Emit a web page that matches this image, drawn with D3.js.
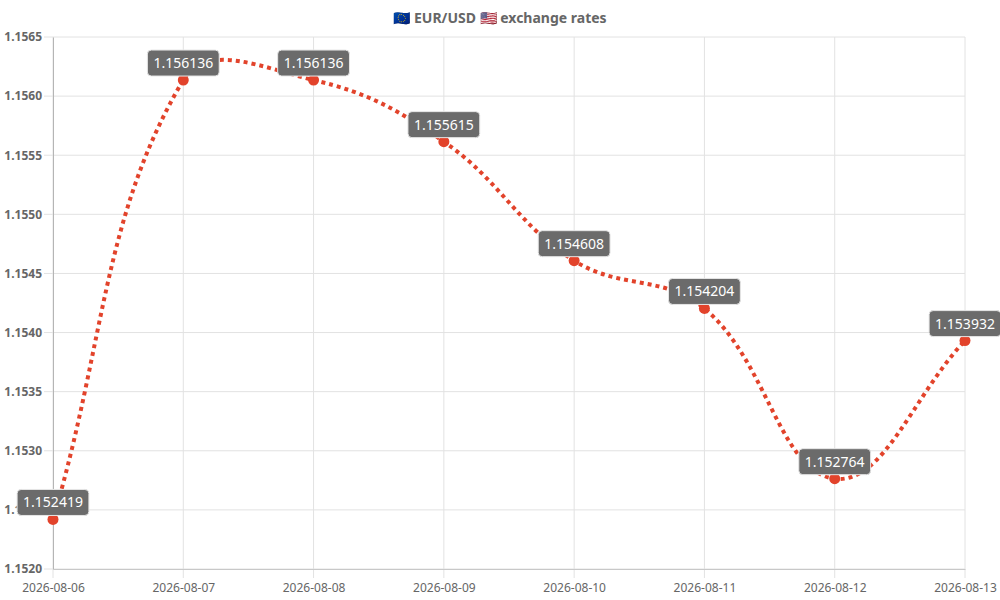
<!DOCTYPE html>
<html>
<head>
<meta charset="utf-8">
<script src="https://cdn.jsdelivr.net/npm/d3@7"></script>
<style>
  body { margin: 0; background: #fff; }
  text { font-family: "Noto Sans", sans-serif; }
</style>
</head>
<body>
<div id="chart"></div>
<script>
// data
var dates = ['2026-08-06', '2026-08-07', '2026-08-08', '2026-08-09', '2026-08-10', '2026-08-11', '2026-08-12', '2026-08-13'];
var rates = [1.152419, 1.156136, 1.156136, 1.155615, 1.154608, 1.154204, 1.152764, 1.153932];
var yTicks = [1.1520, 1.1525, 1.1530, 1.1535, 1.1540, 1.1545, 1.1550, 1.1555, 1.1560, 1.1565];
var title = '\u{1F1EA}\u{1F1FA} EUR/USD \u{1F1FA}\u{1F1F8} exchange rates';

var W = 1000, H = 600;
var margin = { top: 37, right: 35, bottom: 31, left: 53 },
  width = W - margin.left - margin.right,
  height = H - margin.top - margin.bottom;

var lineColor = '#e2432b';

var svg = d3.select('#chart')
  .append('svg')
  .attr('width', W)
  .attr('height', H);

svg.append('text')
  .attr('x', W / 2)
  .attr('y', 23)
  .attr('text-anchor', 'middle')
  .attr('font-size', 14)
  .attr('font-weight', 'bold')
  .attr('fill', '#666')
  .text(title);

var g = svg.append('g')
  .attr('transform', 'translate(' + margin.left + ',' + margin.top + ')');

var x = d3.scalePoint()
  .domain(dates)
  .range([0, width]);

var y = d3.scaleLinear()
  .domain([yTicks[0], yTicks[yTicks.length - 1]])
  .range([height, 0]);

// grid lines
g.append('g')
  .selectAll('line')
  .data(yTicks)
  .join('line')
  .attr('x1', -9).attr('x2', width)
  .attr('y1', function (d) { return y(d); })
  .attr('y2', function (d) { return y(d); })
  .attr('stroke', '#e2e2e2');

g.append('g')
  .selectAll('line')
  .data(dates)
  .join('line')
  .attr('x1', function (d) { return x(d); })
  .attr('x2', function (d) { return x(d); })
  .attr('y1', 0).attr('y2', height + 9)
  .attr('stroke', '#e2e2e2');

// axes
var yAxis = g.append('g')
  .call(d3.axisLeft(y).tickValues(yTicks).tickFormat(d3.format('.4f')).tickSize(0).tickPadding(11));
yAxis.select('.domain').attr('stroke', '#b5b5b5');
yAxis.selectAll('text')
  .attr('font-size', 12)
  .attr('font-weight', 'bold')
  .attr('fill', '#666')
  .attr('font-family', '"Noto Sans", sans-serif');

var xAxis = g.append('g')
  .attr('transform', 'translate(0,' + height + ')')
  .call(d3.axisBottom(x).tickSize(0).tickPadding(14));
xAxis.select('.domain').attr('stroke', '#c8c8c8');
xAxis.selectAll('text')
  .attr('font-size', 12)
  .attr('fill', '#666')
  .attr('font-family', '"Noto Sans", sans-serif');

// points in pixel space
var pts = dates.map(function (d, i) { return { x: x(d), y: y(rates[i]) }; });

// bezier control points like a spline with tension 0.4
function splineCurve(p0, p1, p2, t) {
  var d01 = Math.hypot(p1.x - p0.x, p1.y - p0.y);
  var d12 = Math.hypot(p2.x - p1.x, p2.y - p1.y);
  var s01 = d01 / (d01 + d12), s12 = d12 / (d01 + d12);
  if (isNaN(s01)) s01 = 0;
  if (isNaN(s12)) s12 = 0;
  var fa = t * s01, fb = t * s12;
  return {
    prev: { x: p1.x - fa * (p2.x - p0.x), y: p1.y - fa * (p2.y - p0.y) },
    next: { x: p1.x + fb * (p2.x - p0.x), y: p1.y + fb * (p2.y - p0.y) }
  };
}
function clamp(v, a, b) { return Math.max(a, Math.min(b, v)); }

var cps = pts.map(function (p, i) {
  var c = splineCurve(pts[Math.max(0, i - 1)], p, pts[Math.min(pts.length - 1, i + 1)], 0.4);
  [c.prev, c.next].forEach(function (q) {
    q.x = clamp(q.x, 0, width);
    q.y = clamp(q.y, 0, height);
  });
  return c;
});

var path = d3.path();
path.moveTo(pts[0].x, pts[0].y);
for (var i = 1; i < pts.length; i++) {
  path.bezierCurveTo(cps[i - 1].next.x, cps[i - 1].next.y, cps[i].prev.x, cps[i].prev.y, pts[i].x, pts[i].y);
}

g.append('path')
  .attr('d', path.toString())
  .attr('fill', 'none')
  .attr('stroke', lineColor)
  .attr('stroke-width', 4)
  .attr('stroke-dasharray', '4,4');

g.append('g')
  .selectAll('circle')
  .data(rates)
  .join('circle')
  .attr('cx', function (d, i) { return x(dates[i]); })
  .attr('cy', function (d) { return y(d); })
  .attr('r', 5.5)
  .attr('fill', lineColor);

// value labels
var labels = g.append('g')
  .selectAll('g')
  .data(rates)
  .join('g')
  .attr('transform', function (d, i) { return 'translate(' + x(dates[i]) + ',' + (y(d) - 4) + ')'; });

labels.each(function (d) {
  var lg = d3.select(this);
  var t = lg.append('text')
    .attr('text-anchor', 'middle')
    .attr('font-size', 14)
    .attr('fill', '#fff')
    .attr('y', -8)
    .text(d3.format('.6f')(d));
  var w = t.node().getComputedTextLength() + 12;
  lg.insert('rect', 'text')
    .attr('x', -w / 2)
    .attr('y', -26)
    .attr('width', w)
    .attr('height', 26)
    .attr('rx', 4)
    .attr('fill', '#6b6b6b')
    .attr('stroke', '#e6e6e6')
    .attr('stroke-width', 1);
});
</script>
</body>
</html>
